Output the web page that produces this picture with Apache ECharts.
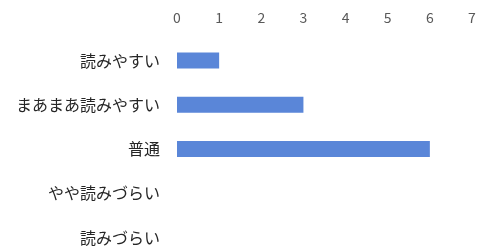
<!DOCTYPE html>
<html>
<head>
<meta charset="utf-8">
<script src="https://cdn.jsdelivr.net/npm/echarts@6/dist/echarts.min.js"></script>
<style>
  html, body { margin: 0; padding: 0; background: #fff; }
  #chart { width: 484px; height: 250px; }
</style>
</head>
<body>
<div id="chart"></div>
<script>
// 項目と回答数
const categories = ['読みやすい', 'まあまあ読みやすい', '普通', 'やや読みづらい', '読みづらい'];
const counts = [1, 3, 6, 0, 0];
const axisMax = 7;

const chart = echarts.init(document.getElementById('chart'));
chart.setOption({
  animation: false,
  grid: { left: 177, right: 12, top: 38.3, height: 221.5, containLabel: false, outerBoundsMode: 'none' },
  xAxis: {
    type: 'value',
    position: 'top',
    min: 0,
    max: axisMax,
    interval: 1,
    axisLine: { show: false },
    axisTick: { show: false },
    splitLine: { show: false },
    axisLabel: { margin: 14, color: '#595959', fontSize: 14, fontFamily: 'Noto Sans CJK JP' }
  },
  yAxis: {
    type: 'category',
    inverse: true,
    data: categories,
    axisLine: { show: false },
    axisTick: { show: false },
    axisLabel: { margin: 17, color: '#262626', fontSize: 16, fontFamily: 'Noto Sans CJK JP' }
  },
  series: [{
    type: 'bar',
    data: counts,
    barWidth: 16,
    itemStyle: { color: '#5a86d8' }
  }]
});
</script>
</body>
</html>
